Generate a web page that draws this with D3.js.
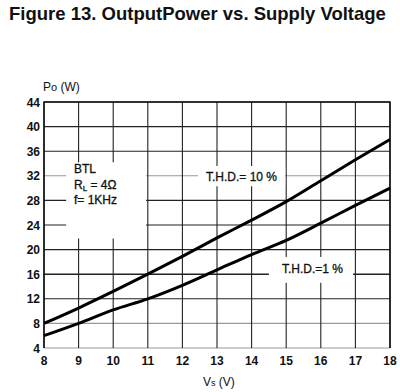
<!DOCTYPE html>
<html>
<head>
<meta charset="utf-8">
<script src="https://cdn.jsdelivr.net/npm/d3@7"></script>
<style>
  body { margin: 0; background: #fff; }
  svg text { font-family: "Liberation Sans", Arial, sans-serif; fill: #111; }
</style>
</head>
<body>
<div id="chart"></div>
<script>
// supply voltage (V)
const volts = [8, 9, 10, 11, 12, 13, 14, 15, 16, 17, 18];
// output power (W)
const thd10 = [8, 10.5, 13.2, 16, 18.9, 21.9, 24.8, 27.8, 31.2, 34.6, 37.9];
const thd1 = [6, 8, 10.2, 12, 14.2, 16.7, 19.2, 21.5, 24.3, 27.2, 30];
const xTicks = [8, 9, 10, 11, 12, 13, 14, 15, 16, 17, 18];
const yTicks = [4, 8, 12, 16, 20, 24, 28, 32, 36, 40, 44];

const width = 400;
const height = 392;

const svg = d3.select('#chart')
    .append('svg')
    .attr('width', width)
    .attr('height', height);

const x = d3.scaleLinear().domain([8, 18]).range([44, 390]);
const y = d3.scaleLinear().domain([4, 44]).range([348, 102]);

svg.append('text')
    .attr('x', 9)
    .attr('y', 20)
    .style('font-size', '18.5px')
    .style('font-weight', 'bold')
    .text('Figure 13. OutputPower vs. Supply Voltage');

// grid
const lightRows = [4, 8, 32];
svg.append('g')
    .selectAll('line')
    .data(yTicks)
    .enter()
    .append('line')
    .attr('x1', x(8))
    .attr('x2', x(18))
    .attr('y1', d => y(d))
    .attr('y2', d => y(d))
    .attr('stroke', d => lightRows.includes(d) ? '#999' : '#222')
    .attr('stroke-width', d => d === 16 ? 1.6 : 1.1);

svg.append('g')
    .selectAll('line')
    .data(xTicks)
    .enter()
    .append('line')
    .attr('x1', d => x(d))
    .attr('x2', d => x(d))
    .attr('y1', y(4))
    .attr('y2', y(44))
    .attr('stroke', '#222')
    .attr('stroke-width', 1.1);

// frame (bottom edge stays light)
svg.append('path')
    .attr('d', `M${x(8)},${y(4)}V${y(44)}H${x(18)}V${y(4)}`)
    .attr('fill', 'none')
    .attr('stroke', '#111')
    .attr('stroke-width', 1.5);

// white boxes behind the annotations
const boxes = [
    {x0: 8.64, x1: 10.95, y0: 34.2, y1: 21.8},
    {x0: 12.45, x1: 14.97, y0: 33.6, y1: 30.3},
    {x0: 14.5, x1: 16.93, y0: 18.8, y1: 14.6}
];
svg.append('g')
    .selectAll('rect')
    .data(boxes)
    .enter()
    .append('rect')
    .attr('x', d => x(d.x0))
    .attr('y', d => y(d.y0))
    .attr('width', d => x(d.x1) - x(d.x0))
    .attr('height', d => y(d.y1) - y(d.y0))
    .attr('fill', '#fff');

// curves
const line = d3.line()
    .x((d, i) => x(volts[i]))
    .y(d => y(d))
    .curve(d3.curveMonotoneX);

[thd10, thd1].forEach(series => {
    svg.append('path')
        .datum(series)
        .attr('d', line)
        .attr('fill', 'none')
        .attr('stroke', '#000')
        .attr('stroke-width', 3);
});

// tick labels
svg.append('g')
    .selectAll('text')
    .data(yTicks)
    .enter()
    .append('text')
    .attr('x', 40)
    .attr('y', d => y(d) + 4.5)
    .attr('text-anchor', 'end')
    .style('font-size', '12px')
    .style('font-weight', 'bold')
    .text(d => d);

svg.append('g')
    .selectAll('text')
    .data(xTicks)
    .enter()
    .append('text')
    .attr('x', d => x(d))
    .attr('y', 365)
    .attr('text-anchor', 'middle')
    .style('font-size', '12px')
    .style('font-weight', 'bold')
    .text(d => d);

// axis titles
const yTitle = svg.append('text')
    .attr('x', 43)
    .attr('y', 91)
    .style('font-size', '12px');
yTitle.append('tspan').text('P');
yTitle.append('tspan').style('font-size', '11px').text('o');
yTitle.append('tspan').text(' (W)');

const xTitle = svg.append('text')
    .attr('x', 203)
    .attr('y', 386)
    .style('font-size', '12px');
xTitle.append('tspan').text('V');
xTitle.append('tspan').style('font-size', '9px').text('s');
xTitle.append('tspan').text(' (V)');

// annotations
const note = svg.append('g')
    .style('font-size', '12px')
    .style('stroke', '#111')
    .style('stroke-width', 0.3);
note.append('text').attr('x', 74).attr('y', 173).text('BTL');
const rl = note.append('text').attr('x', 74).attr('y', 189);
rl.append('tspan').text('R');
rl.append('tspan').style('font-size', '8px').attr('dy', 2).text('L');
rl.append('tspan').attr('dy', -2).text(' = 4Ω');
note.append('text').attr('x', 74).attr('y', 204).text('f= 1KHz');

note.append('text').attr('x', 206).attr('y', 181).text('T.H.D.= 10 %');
note.append('text').attr('x', 282).attr('y', 273).text('T.H.D.=1 %');
</script>
</body>
</html>
